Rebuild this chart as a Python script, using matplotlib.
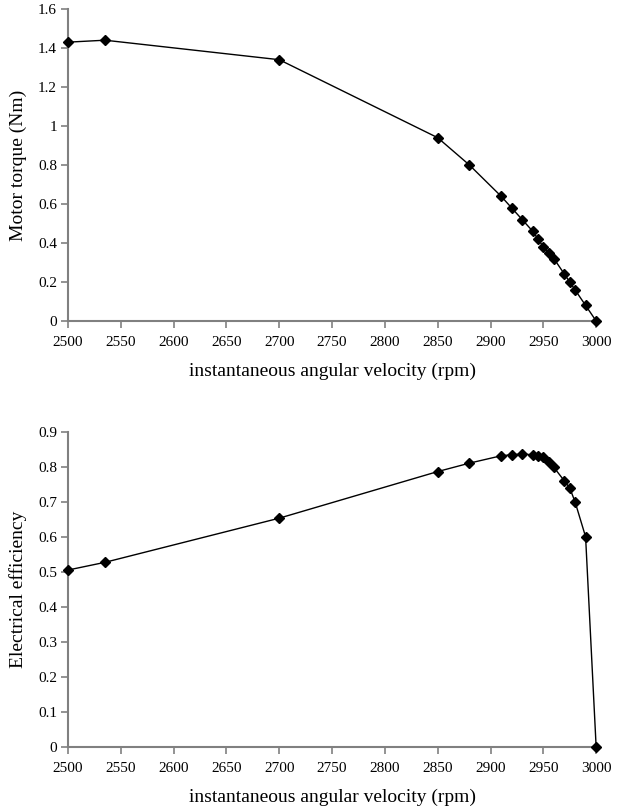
import matplotlib
matplotlib.use("Agg")
import matplotlib.pyplot as plt

rpm = [2500, 2535, 2700, 2850, 2880, 2910, 2920, 2930, 2940, 2945, 2950,
       2955, 2960, 2970, 2975, 2980, 2990, 3000]
torque = [1.43, 1.44, 1.34, 0.94, 0.80, 0.64, 0.58, 0.52, 0.46, 0.42, 0.38,
          0.35, 0.32, 0.24, 0.20, 0.16, 0.08, 0.0]
efficiency = [0.505, 0.527, 0.653, 0.786, 0.810, 0.831, 0.834, 0.836, 0.834,
              0.829, 0.828, 0.813, 0.798, 0.759, 0.739, 0.700, 0.600, 0.0]

x_ticks = [2500, 2550, 2600, 2650, 2700, 2750, 2800, 2850, 2900, 2950, 3000]
torque_ticks = [0, 0.2, 0.4, 0.6, 0.8, 1, 1.2, 1.4, 1.6]
torque_tick_labels = ["0", "0.2", "0.4", "0.6", "0.8", "1", "1.2", "1.4", "1.6"]
eff_ticks = [0, 0.1, 0.2, 0.3, 0.4, 0.5, 0.6, 0.7, 0.8, 0.9]
eff_tick_labels = ["0", "0.1", "0.2", "0.3", "0.4", "0.5", "0.6", "0.7", "0.8", "0.9"]

xlabel = "instantaneous angular velocity (rpm)"

plt.rcParams['font.family'] = ['Liberation Serif', 'DejaVu Serif']

fig = plt.figure(figsize=(6.17, 8.11), dpi=100)
ax1 = fig.add_axes([0.1102, 0.6042, 0.856, 0.3847])
ax2 = fig.add_axes([0.1102, 0.0789, 0.856, 0.3889])

def style(ax, yticks, ylabels, ymax, ylabel, xpad):
    ax.set_xlim(2500, 3000)
    ax.set_ylim(0, ymax)
    ax.set_xticks(x_ticks)
    ax.set_xticklabels([str(v) for v in x_ticks])
    ax.set_yticks(yticks)
    ax.set_yticklabels(ylabels)
    for s in ['top', 'right']:
        ax.spines[s].set_visible(False)
    for s in ['left', 'bottom']:
        ax.spines[s].set_color('#808080')
        ax.spines[s].set_linewidth(1.5)
    ax.tick_params(axis='both', direction='out', length=5, width=1.2,
                   color='#808080', labelsize=11, labelcolor='black')
    ax.tick_params(axis='x', pad=6)
    ax.tick_params(axis='y', pad=3)
    ax.set_xlabel(xlabel, fontsize=14, labelpad=xpad)
    ax.set_ylabel(ylabel, fontsize=14, labelpad=8)

ax1.plot(rpm, torque, color='black', linewidth=1.0, marker='D', markersize=5,
         markerfacecolor='black', markeredgecolor='black', clip_on=False, zorder=3)
style(ax1, torque_ticks, torque_tick_labels, 1.6, "Motor torque (Nm)", 10)

ax2.plot(rpm, efficiency, color='black', linewidth=1.0, marker='D', markersize=5,
         markerfacecolor='black', markeredgecolor='black', clip_on=False, zorder=3)
style(ax2, eff_ticks, eff_tick_labels, 0.9, "Electrical efficiency", 10)

fig.savefig("out.png", dpi=100, facecolor='white')
